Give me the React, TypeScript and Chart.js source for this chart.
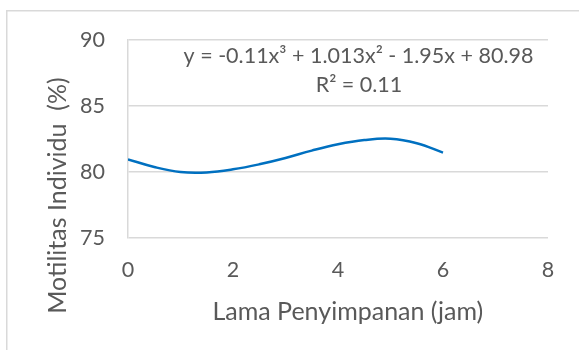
import React, { useEffect, useRef } from "react";
import { Chart, registerables } from "chart.js";

Chart.register(...registerables);

const storageHours = [0, 0.5, 1, 1.5, 2, 2.5, 3, 3.5, 4, 4.5, 5, 5.5, 6];
const motilityTrend = [80.96, 80.38, 80.0, 79.97, 80.2, 80.58, 81.06, 81.62, 82.1, 82.42, 82.52, 82.18, 81.47];
const xTickValues = [0, 2, 4, 6, 8];
const yTickValues = [75, 80, 85, 90];
const equationText = "y = -0.11x³ + 1.013x² - 1.95x + 80.98";
const rSquaredText = "R² = 0.11";
const xAxisTitle = "Lama Penyimpanan (jam)";
const yAxisTitle = "Motilitas Individu  (%)";

const FONT = "Lato, 'Open Sans', sans-serif";
const TEXT = "#595959";
const GRID = "#d9d9d9";

export default function App() {
  const ref = useRef<HTMLCanvasElement | null>(null);

  useEffect(() => {
    if (!ref.current) return;
    const decor = {
      id: "decor",
      beforeDraw(chart: any) {
        const ctx = chart.ctx;
        ctx.save();
        ctx.strokeStyle = GRID;
        ctx.lineWidth = 1.5;
        ctx.beginPath();
        ctx.moveTo(6.75, 400);
        ctx.lineTo(6.75, 10.75);
        ctx.lineTo(600, 10.75);
        ctx.stroke();
        ctx.restore();
      },
      afterDraw(chart: any) {
        const ctx = chart.ctx;
        ctx.save();
        ctx.fillStyle = TEXT;
        ctx.textBaseline = "alphabetic";
        ctx.textAlign = "center";
        ctx.font = `21.5px ${FONT}`;
        ctx.fillText(equationText, 358.5, 62.5);
        ctx.fillText(rSquaredText, 359, 92);
        ctx.font = `25px ${FONT}`;
        ctx.fillText(xAxisTitle, 347.8, 319.5);
        ctx.translate(66, 195.5);
        ctx.rotate(-Math.PI / 2);
        ctx.fillText(yAxisTitle, 0, 0);
        ctx.restore();
      },
    };

    const chart = new Chart(ref.current, {
      type: "line",
      data: {
        datasets: [
          {
            label: "Motilitas",
            data: storageHours.map((x, i) => ({ x, y: motilityTrend[i] })),
            borderColor: "#0070C0",
            borderWidth: 2.5,
            pointRadius: 0,
            tension: 0.4,
            fill: false,
          },
        ],
      },
      options: {
        responsive: false,
        animation: false,
        devicePixelRatio: 1,
        layout: { padding: { top: 40, right: 31, left: 0, bottom: 0 } },
        plugins: { legend: { display: false }, tooltip: { enabled: false }, title: { display: false } },
        scales: {
          x: {
            type: "linear",
            min: 0,
            max: 8,
            afterFit: (s: any) => { s.height = 112; },
            afterBuildTicks: (s: any) => { s.ticks = xTickValues.map((v) => ({ value: v })); },
            grid: { display: false, drawTicks: false },
            border: { display: false },
            ticks: { color: TEXT, font: { family: FONT, size: 21.5 }, padding: 19, maxRotation: 0 },
          },
          y: {
            min: 75,
            max: 90,
            afterFit: (s: any) => { s.width = 128; },
            afterBuildTicks: (s: any) => { s.ticks = yTickValues.map((v) => ({ value: v })); },
            grid: { color: GRID, lineWidth: 1.5, drawTicks: false },
            border: { display: true, color: GRID, width: 1.5 },
            ticks: { color: TEXT, font: { family: FONT, size: 21.5 }, padding: 23 },
          },
        },
      },
      plugins: [decor],
    });
    return () => chart.destroy();
  }, []);

  return (
    <div style={{ position: "fixed", left: 0, top: 0, width: 579, height: 350, background: "#fff" }}>
      <canvas ref={ref} width={579} height={350} style={{ display: "block" }} />
    </div>
  );
}
